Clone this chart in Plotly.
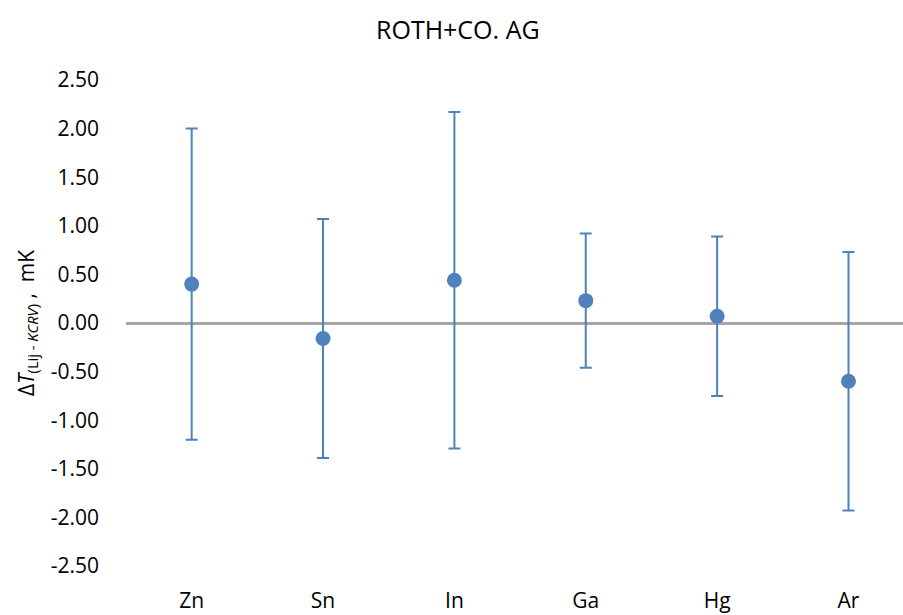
import plotly.graph_objects as go

categories = ["Zn", "Sn", "In", "Ga", "Hg", "Ar"]
values = [0.40, -0.16, 0.44, 0.23, 0.07, -0.60]
uncertainties = [1.60, 1.23, 1.73, 0.69, 0.82, 1.33]
y_ticks = [2.5, 2.0, 1.5, 1.0, 0.5, 0.0, -0.5, -1.0, -1.5, -2.0, -2.5]
y_tick_labels = ["%.2f" % v for v in y_ticks]

FONT = "Open Sans"
BLUE = "#4F81BD"

fig = go.Figure()
fig.add_trace(go.Scatter(
    x=categories, y=values, mode="markers",
    marker=dict(color=BLUE, size=15),
    error_y=dict(type="data", array=uncertainties, visible=True,
                 color=BLUE, thickness=2, width=6),
    showlegend=False,
))

fig.update_layout(
    width=903, height=615,
    paper_bgcolor="white", plot_bgcolor="white",
    margin=dict(l=126, r=0, t=80, b=49),
    title=dict(text="ROTH+CO. AG", x=0.507, xanchor="center", y=0.951, yanchor="middle",
               font=dict(family=FONT, size=25, color="black")),
    font=dict(family=FONT, size=21, color="black"),
    xaxis=dict(
        type="category", range=[-0.5, 5.415],
        showgrid=False, showline=False, zeroline=False,
        ticks="", ticklabelstandoff=20,
        tickfont=dict(family=FONT, size=21, color="black"),
    ),
    yaxis=dict(
        range=[-2.5, 2.5], tickvals=y_ticks, ticktext=y_tick_labels,
        showgrid=False, showline=False,
        zeroline=True, zerolinecolor="#A6A6A6", zerolinewidth=3,
        ticks="", ticklabelstandoff=26,
        tickfont=dict(family=FONT, size=21, color="black"),
        title=dict(text="Δ<i>T</i><sub>(Lij - <i>KCRV</i>)</sub> ,  mK",
                   font=dict(family=FONT, size=21, color="black"), standoff=10),
    ),
)

fig.write_html("out.html", config={"displayModeBar": False})
with open("out.html", "r", encoding="utf-8") as f:
    html = f.read()
html = html.replace("<body>", '<body style="margin:0;padding:0;overflow:hidden">', 1)
with open("out.html", "w", encoding="utf-8") as f:
    f.write(html)
